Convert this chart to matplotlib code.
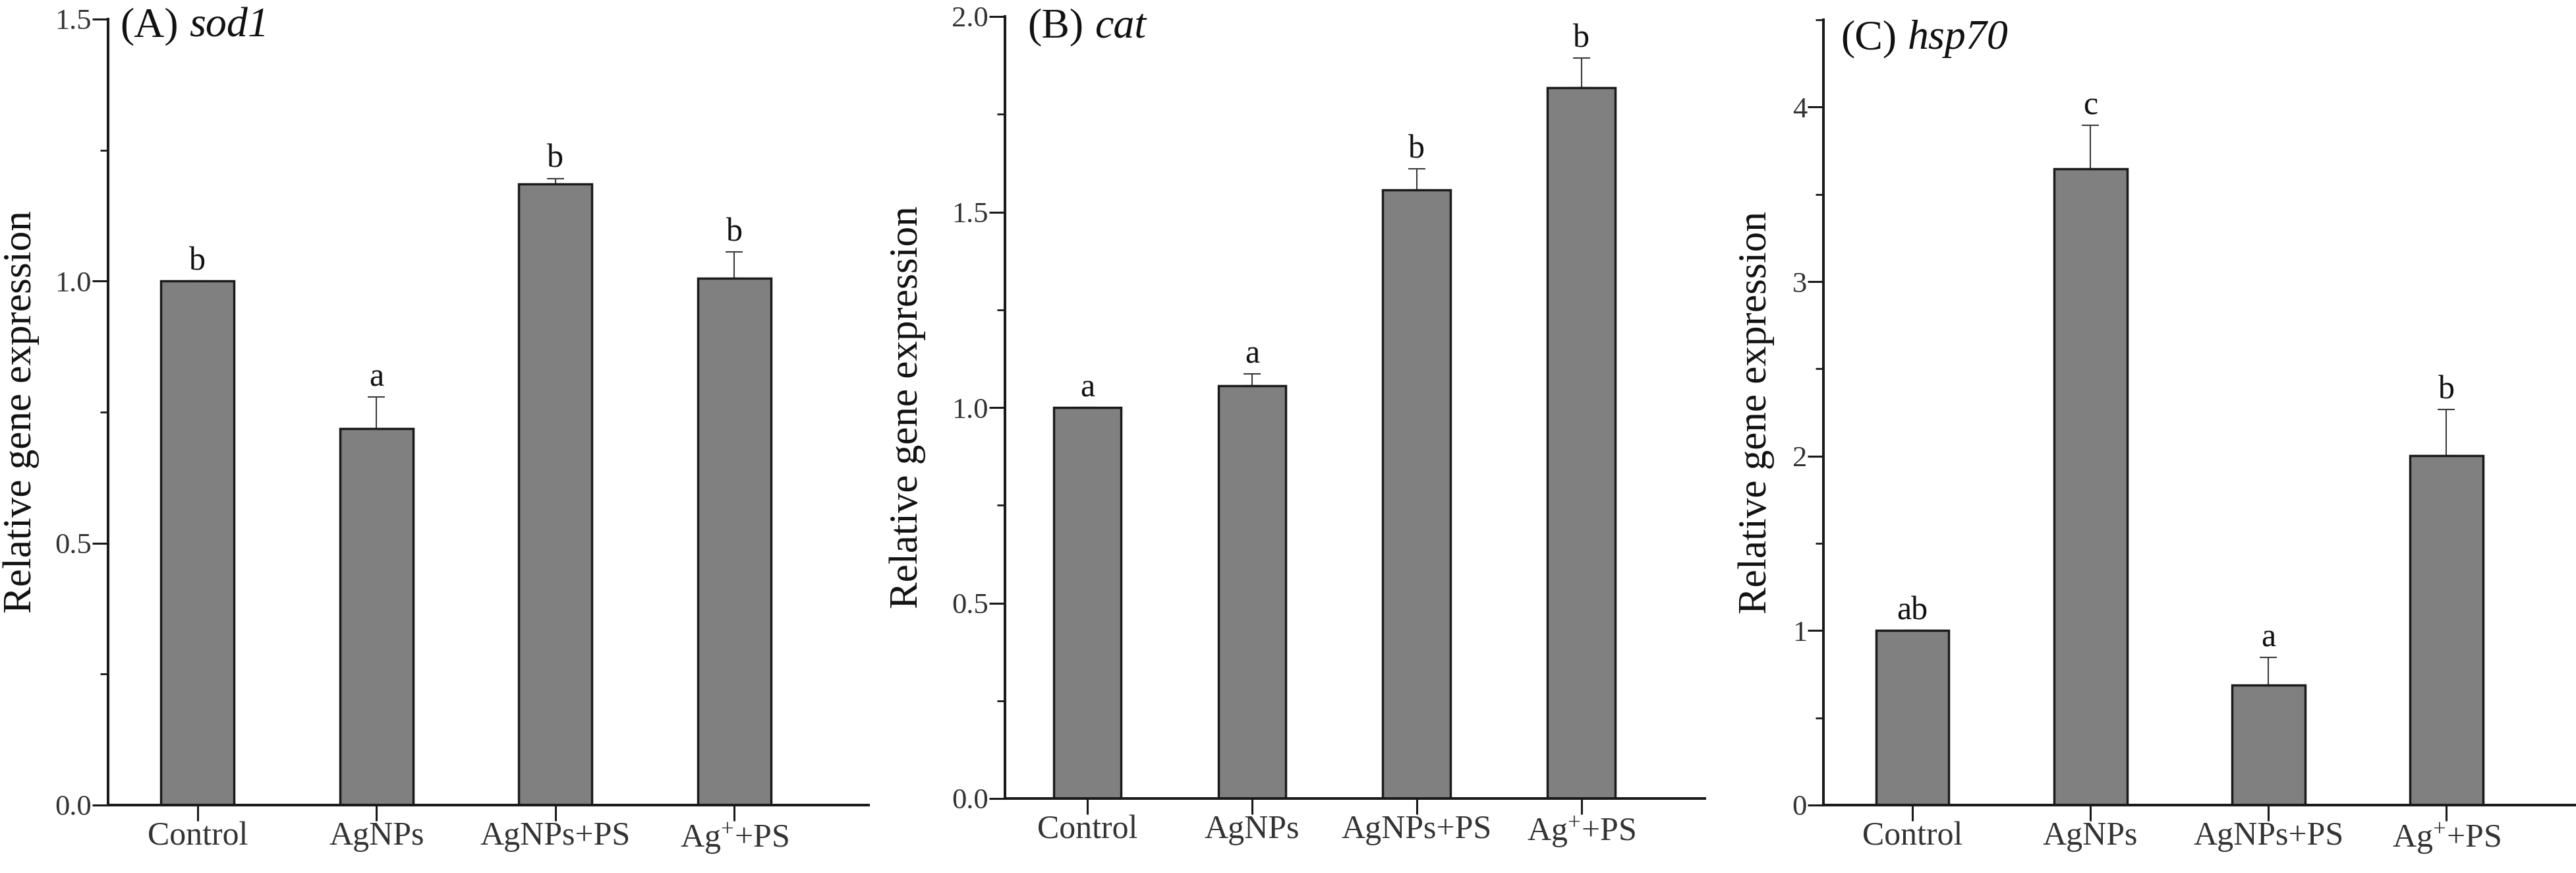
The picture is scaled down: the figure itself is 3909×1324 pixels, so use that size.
import matplotlib
matplotlib.use("Agg")
import matplotlib.pyplot as plt
import numpy as np

plt.rcParams["font.family"] = "Liberation Serif"
plt.rcParams["mathtext.fontset"] = "custom"
plt.rcParams["mathtext.rm"] = "Liberation Serif"
plt.rcParams["mathtext.it"] = "Liberation Serif:italic"

# data
groups = ["Control", "AgNPs", "AgNPs+PS", "Ag$^{+}$+PS"]

sod1_mean = [1.00, 0.718, 1.186, 1.005]
sod1_err = [0.0, 0.061, 0.010, 0.051]
sod1_letters = ["b", "a", "b", "b"]

cat_mean = [1.00, 1.056, 1.556, 1.818]
cat_err = [0.0, 0.030, 0.055, 0.075]
cat_letters = ["a", "a", "b", "b"]

hsp70_mean = [1.00, 3.645, 0.687, 2.003]
hsp70_err = [0.0, 0.250, 0.160, 0.265]
hsp70_letters = ["ab", "c", "a", "b"]

panels = [
    ("(A)", "sod1", sod1_mean, sod1_err, sod1_letters, 1.5, 0.5, 0.25),
    ("(B)", "cat", cat_mean, cat_err, cat_letters, 2.0, 0.5, 0.25),
    ("(C)", "hsp70", hsp70_mean, hsp70_err, hsp70_letters, 4.5, 1, 0.5),
]

W, H = 3909, 1324
fig = plt.figure(figsize=(W / 100, H / 100), dpi=100)

# axes boxes in pixels: left, top, right, bottom
boxes = [(164, 29, 1318, 1221), (1525, 25, 2587, 1211), (2767, 30, 3915, 1221)]
title_off = [(13, -19), (25, -23), (19, -32)]
ylab_pad = [17, 28, 19]

for i, (tag, gene, mean, err, letters, ymax, major, minor) in enumerate(panels):
    l, t, r, b = boxes[i]
    ax = fig.add_axes([l / W, (H - b) / H, (r - l) / W, (b - t) / H])
    x = np.arange(1, len(groups) + 1)
    ax.bar(x, mean, width=0.41, color="#808080", edgecolor="#1a1a1a", linewidth=2.5, zorder=2)
    ax.errorbar(x, mean, yerr=[np.zeros(len(err)), err], fmt="none", ecolor="#3a3a3a",
                elinewidth=1.5, capsize=9.5, capthick=1.5, zorder=1)
    for xi, m, e, lab in zip(x, mean, err, letters):
        ax.annotate(lab, xy=(xi, m + e), xytext=(0, 12), textcoords="offset points",
                    ha="center", va="baseline", fontsize=36, color="#111111")
    ax.set_xlim(0.5, 4.75)
    ax.set_ylim(0, ymax)
    ax.set_xticks(x)
    ax.set_xticklabels(groups)
    ax.set_yticks(np.arange(0, ymax + 1e-9, major))
    ax.set_yticks(np.arange(0, ymax + 1e-9, minor), minor=True)
    if major < 1:
        ax.yaxis.set_major_formatter(matplotlib.ticker.FormatStrFormatter("%.1f"))
    for s in ["top", "right"]:
        ax.spines[s].set_visible(False)
    for s in ["left", "bottom"]:
        ax.spines[s].set_linewidth(2.9)
        ax.spines[s].set_color("#1a1a1a")
    ax.tick_params(axis="both", which="major", length=17, width=2.2, color="#1a1a1a",
                   labelsize=32, labelcolor="#333333")
    ax.tick_params(axis="y", which="minor", length=9, width=2.0, color="#1a1a1a")
    ax.tick_params(axis="y", which="major", pad=1)
    ax.tick_params(axis="x", which="major", pad=1, labelsize=36)
    ax.set_ylabel("Relative gene expression", fontsize=44, color="#111111", labelpad=ylab_pad[i])
    t1 = ax.annotate(tag, xy=(0, 1), xycoords="axes fraction",
                     xytext=title_off[i], textcoords="offset points", ha="left", va="baseline",
                     fontsize=46, color="#111111")
    ax.annotate(gene, xy=(1, 0), xycoords=t1, xytext=(12, 0), textcoords="offset points",
                ha="left", va="bottom", fontsize=46, style="italic", color="#111111")

fig.savefig("out.png", dpi=100)
